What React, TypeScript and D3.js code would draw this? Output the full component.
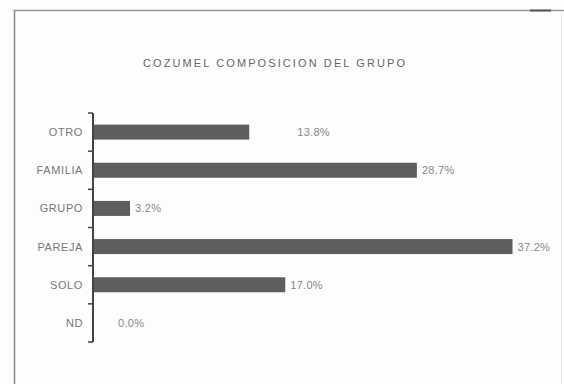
import React from "react";
import * as d3 from "d3";

const categories = ["OTRO", "FAMILIA", "GRUPO", "PAREJA", "SOLO", "ND"];
const values = [13.8, 28.7, 3.2, 37.2, 17.0, 0.0];
const valueLabels = ["13.8%", "28.7%", "3.2%", "37.2%", "17.0%", "0.0%"];
const title = "COZUMEL  COMPOSICION DEL GRUPO";

export default function App() {
  const W = 564, H = 384;
  const x = d3.scaleLinear().domain([0, 40]).range([94, 544]);
  const y = d3.scaleBand<string>().domain(categories).range([113, 342]);
  const barH = 15;
  const bandCenter = (c: string) => (y(c) ?? 0) + y.bandwidth() / 2;
  const ticks = d3.range(categories.length + 1).map((i) => 113 + i * y.step());
  const labelX = (c: string, v: number) => {
    if (c === "OTRO") return x(v) + 48;
    if (c === "ND") return x(v) + 24;
    return x(v) + 5;
  };
  const font = "Liberation Sans, Arial, sans-serif";
  return (
    <svg width={W} height={H} style={{ position: "absolute", left: 0, top: 0, background: "#fff" }}>
      <rect x={0} y={0} width={W} height={H} fill="#fdfdfd" />
      <line x1={14} y1={10.5} x2={564} y2={10.5} stroke="#999" strokeWidth={1.5} />
      <line x1={530} y1={10.5} x2={551} y2={10.5} stroke="#555" strokeWidth={2} />
      <line x1={14.5} y1={10} x2={14.5} y2={384} stroke="#888" strokeWidth={1.5} />
      <line x1={561.5} y1={14} x2={561.5} y2={384} stroke="#e8e8e8" strokeWidth={1} />
      <text x={274} y={67} textAnchor="middle" fontFamily={font} fontSize={11} fill="#666" textLength={262} lengthAdjust="spacing">
        {title}
      </text>
      {categories.map((c, i) => (
        <g key={c}>
          <rect x={x(0)} y={bandCenter(c) - barH / 2} width={x(values[i]) - x(0)} height={barH} fill="#5e5e5e" />
          <text x={83} y={bandCenter(c) + 4} textAnchor="end" fontFamily={font} fontSize={11} fill="#777" letterSpacing={0.6}>
            {c}
          </text>
          <text x={labelX(c, values[i])} y={bandCenter(c) + 4} fontFamily={font} fontSize={11} fill="#888" letterSpacing={0.3}>
            {valueLabels[i]}
          </text>
        </g>
      ))}
      <line x1={93} y1={ticks[0]} x2={93} y2={ticks[ticks.length - 1]} stroke="#444" strokeWidth={2} />
      {ticks.map((t, i) => (
        <line key={i} x1={88} y1={t} x2={93} y2={t} stroke="#444" strokeWidth={1.5} />
      ))}
    </svg>
  );
}
